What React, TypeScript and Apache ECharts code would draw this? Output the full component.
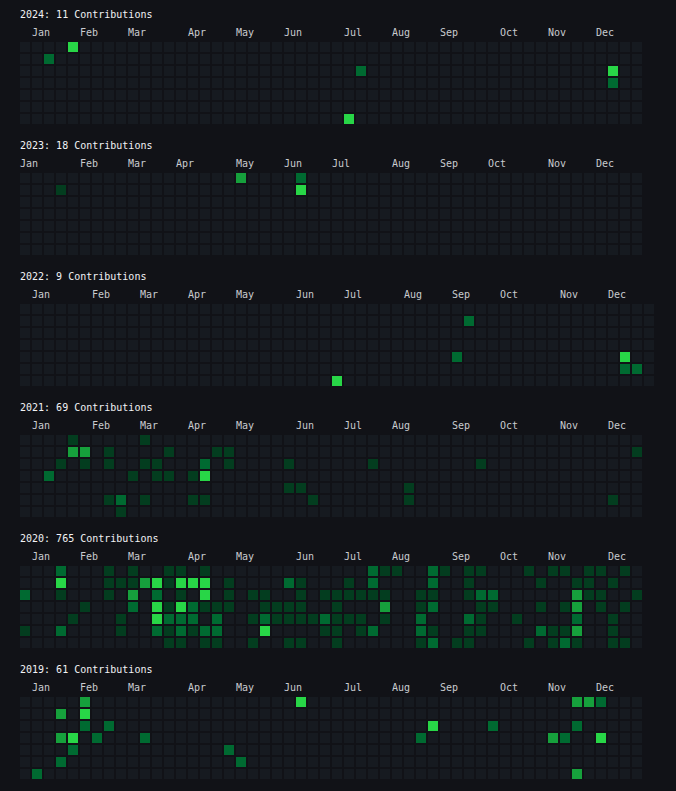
import React, { useEffect, useRef } from "react";
import * as echarts from "echarts";

const YEARS = [2024, 2023, 2022, 2021, 2020, 2019];
const TOTALS = [11, 18, 9, 69, 765, 61];
const WEEKS = [52, 52, 53, 52, 52, 52];
const MONTHS = ["Jan", "Feb", "Mar", "Apr", "May", "Jun", "Jul", "Aug", "Sep", "Oct", "Nov", "Dec"];
const DAYS = ["Sun", "Mon", "Tue", "Wed", "Thu", "Fri", "Sat"];
const LEVEL_COLORS = ["#161a20", "#033d1f", "#006a31", "#16a03c", "#28d647"];

// [week, weekday, level]
const Y2024 = [[4,0,4],[2,1,2],[28,2,2],[27,6,4],[49,2,4],[49,3,2]];
const Y2023 = [[3,1,1],[18,0,3],[23,0,2],[23,1,4]];
const Y2022 = [[26,6,4],[37,1,2],[36,4,2],[50,4,4],[50,5,2],[51,5,2]];
const Y2021 = [
  [4,0,1],[10,0,1],
  [4,1,3],[5,1,3],[7,1,1],[12,1,1],[16,1,1],[17,1,1],[51,1,1],
  [3,2,1],[5,2,1],[7,2,1],[10,2,1],[11,2,1],[15,2,2],[17,2,1],[22,2,1],[29,2,1],[38,2,1],
  [2,3,2],[9,3,1],[11,3,1],[12,3,1],[14,3,1],[15,3,4],
  [22,4,1],[23,4,1],[32,4,1],
  [7,5,1],[8,5,2],[10,5,1],[14,5,1],[15,5,1],[24,5,1],[32,5,1],[49,5,1],
  [8,6,1],
];
const Y2020 = [
  [3,0,2],[7,0,1],[9,0,1],[12,0,1],[13,0,1],[15,0,1],[29,0,2],[30,0,1],[31,0,1],[34,0,2],[35,0,1],[37,0,1],[38,0,1],[42,0,1],[44,0,1],[45,0,1],[47,0,1],[48,0,1],[50,0,1],
  [3,1,4],[7,1,1],[8,1,1],[9,1,1],[10,1,3],[11,1,4],[12,1,1],[13,1,4],[14,1,4],[15,1,4],[17,1,1],[22,1,2],[23,1,1],[27,1,1],[29,1,2],[34,1,2],[37,1,1],[43,1,1],[46,1,1],[47,1,1],[49,1,1],
  [0,2,2],[3,2,1],[7,2,1],[9,2,3],[11,2,2],[13,2,1],[15,2,4],[17,2,1],[19,2,1],[20,2,1],[23,2,1],[25,2,1],[26,2,1],[27,2,1],[28,2,1],[29,2,1],[30,2,1],[33,2,1],[34,2,1],[37,2,1],[38,2,2],[39,2,2],[46,2,3],[47,2,1],[48,2,1],[51,2,1],
  [5,3,1],[9,3,2],[11,3,4],[12,3,1],[13,3,4],[14,3,2],[15,3,1],[16,3,1],[17,3,1],[20,3,1],[21,3,1],[22,3,1],[23,3,1],[26,3,1],[30,3,3],[33,3,1],[34,3,2],[38,3,1],[39,3,1],[43,3,1],[45,3,1],[46,3,3],[48,3,1],[50,3,1],
  [4,4,1],[8,4,1],[11,4,4],[12,4,2],[13,4,2],[14,4,2],[16,4,2],[19,4,1],[20,4,2],[21,4,1],[22,4,1],[23,4,1],[24,4,1],[25,4,2],[26,4,1],[27,4,1],[28,4,1],[30,4,1],[33,4,2],[37,4,2],[38,4,1],[41,4,1],[46,4,2],[49,4,1],
  [0,5,1],[3,5,2],[8,5,1],[11,5,2],[12,5,1],[13,5,2],[14,5,1],[15,5,2],[16,5,2],[20,5,4],[25,5,1],[26,5,1],[28,5,1],[29,5,2],[33,5,2],[34,5,1],[37,5,1],[38,5,1],[43,5,2],[44,5,1],[45,5,1],[46,5,3],[49,5,1],
  [12,6,1],[13,6,1],[15,6,1],[16,6,1],[19,6,1],[22,6,1],[23,6,1],[26,6,1],[33,6,1],[34,6,2],[36,6,1],[37,6,1],[42,6,1],[44,6,1],[45,6,2],[46,6,1],[49,6,1],[50,6,1],
];
const Y2019 = [
  [5,0,3],[23,0,4],[46,0,3],[47,0,3],[48,0,2],
  [3,1,3],[5,1,4],
  [5,2,2],[7,2,2],[34,2,4],[39,2,2],[46,2,2],
  [3,3,3],[4,3,4],[6,3,2],[10,3,2],[33,3,2],[44,3,3],[45,3,2],[48,3,4],
  [4,4,2],[17,4,2],
  [3,5,2],[18,5,2],
  [1,6,2],[46,6,3],
];
const YEAR_CELLS = [Y2024, Y2023, Y2022, Y2021, Y2020, Y2019];

const BG = "#111217";
const FONT = "'DejaVu Sans Mono', 'Liberation Mono', monospace";
const SECTION = 131;

function monthLabels(year: number, weeks: number): Record<number, string> {
  const jan1 = Date.UTC(year, 0, 1);
  const start = jan1 - new Date(jan1).getUTCDay() * 86400000;
  const out: Record<number, string> = {};
  let prevKey = "";
  for (let w = 0; w < weeks; w++) {
    const d = new Date(start + w * 7 * 86400000);
    const key = d.getUTCFullYear() + "-" + d.getUTCMonth();
    if (d.getUTCFullYear() === year && key !== prevKey) out[w] = MONTHS[d.getUTCMonth()];
    prevKey = key;
  }
  return out;
}

export default function App() {
  const ref = useRef<HTMLDivElement>(null);
  useEffect(() => {
    document.body.style.margin = "0";
    document.body.style.background = BG;
    const chart = echarts.init(ref.current!, null, { renderer: "svg" });
    const grid: any[] = [];
    const xAxis: any[] = [];
    const yAxis: any[] = [];
    const series: any[] = [];
    const title: any[] = [];
    YEARS.forEach((year, k) => {
      const weeks = WEEKS[k];
      const labels = monthLabels(year, weeks);
      const lookup: Record<string, number> = {};
      YEAR_CELLS[k].forEach(([c, r, l]) => (lookup[c + "_" + r] = l));
      const data: number[][] = [];
      for (let c = 0; c < weeks; c++)
        for (let r = 0; r < 7; r++) data.push([c, r, lookup[c + "_" + r] || 0]);
      title.push({
        text: `${year}: ${TOTALS[k]} Contributions`,
        left: 20,
        top: 8 + SECTION * k,
        padding: 0,
        textStyle: { color: "#f2f3f5", fontFamily: FONT, fontSize: 10, fontWeight: "normal", lineHeight: 13 },
      });
      grid.push({ left: 20, top: 42 + SECTION * k, width: weeks * 12, height: 84 });
      xAxis.push({
        type: "value",
        gridIndex: k,
        position: "top",
        min: 0,
        max: weeks,
        interval: 1,
        axisLine: { show: false },
        axisTick: { show: false },
        splitLine: { show: false },
        axisLabel: {
          show: true,
          align: "left",
          verticalAlign: "middle",
          margin: 10,
          color: "#c9cbcf",
          fontFamily: FONT,
          fontSize: 10,
          showMinLabel: true,
          showMaxLabel: true,
          hideOverlap: false,
          formatter: (v: number) => labels[v] || "",
        },
      });
      yAxis.push({ type: "category", gridIndex: k, data: DAYS, inverse: true, show: false });
      series.push({
        type: "custom",
        xAxisIndex: k,
        yAxisIndex: k,
        data,
        encode: { x: 0, y: 1 },
        renderItem: (params: any, api: any) => {
          const p = api.coord([api.value(0), api.value(1)]);
          const s = api.size([1, 1]);
          return {
            type: "rect",
            shape: { x: p[0], y: p[1] - s[1] / 2, width: s[0] - 2, height: s[1] - 2 },
            style: { fill: LEVEL_COLORS[api.value(2)] },
          };
        },
      });
    });
    chart.setOption({ animation: false, backgroundColor: BG, title, grid, xAxis, yAxis, series });
    return () => chart.dispose();
  }, []);
  return (
    <div
      ref={ref}
      style={{ position: "absolute", left: 0, top: 0, width: 676, height: 791, background: BG }}
    />
  );
}
